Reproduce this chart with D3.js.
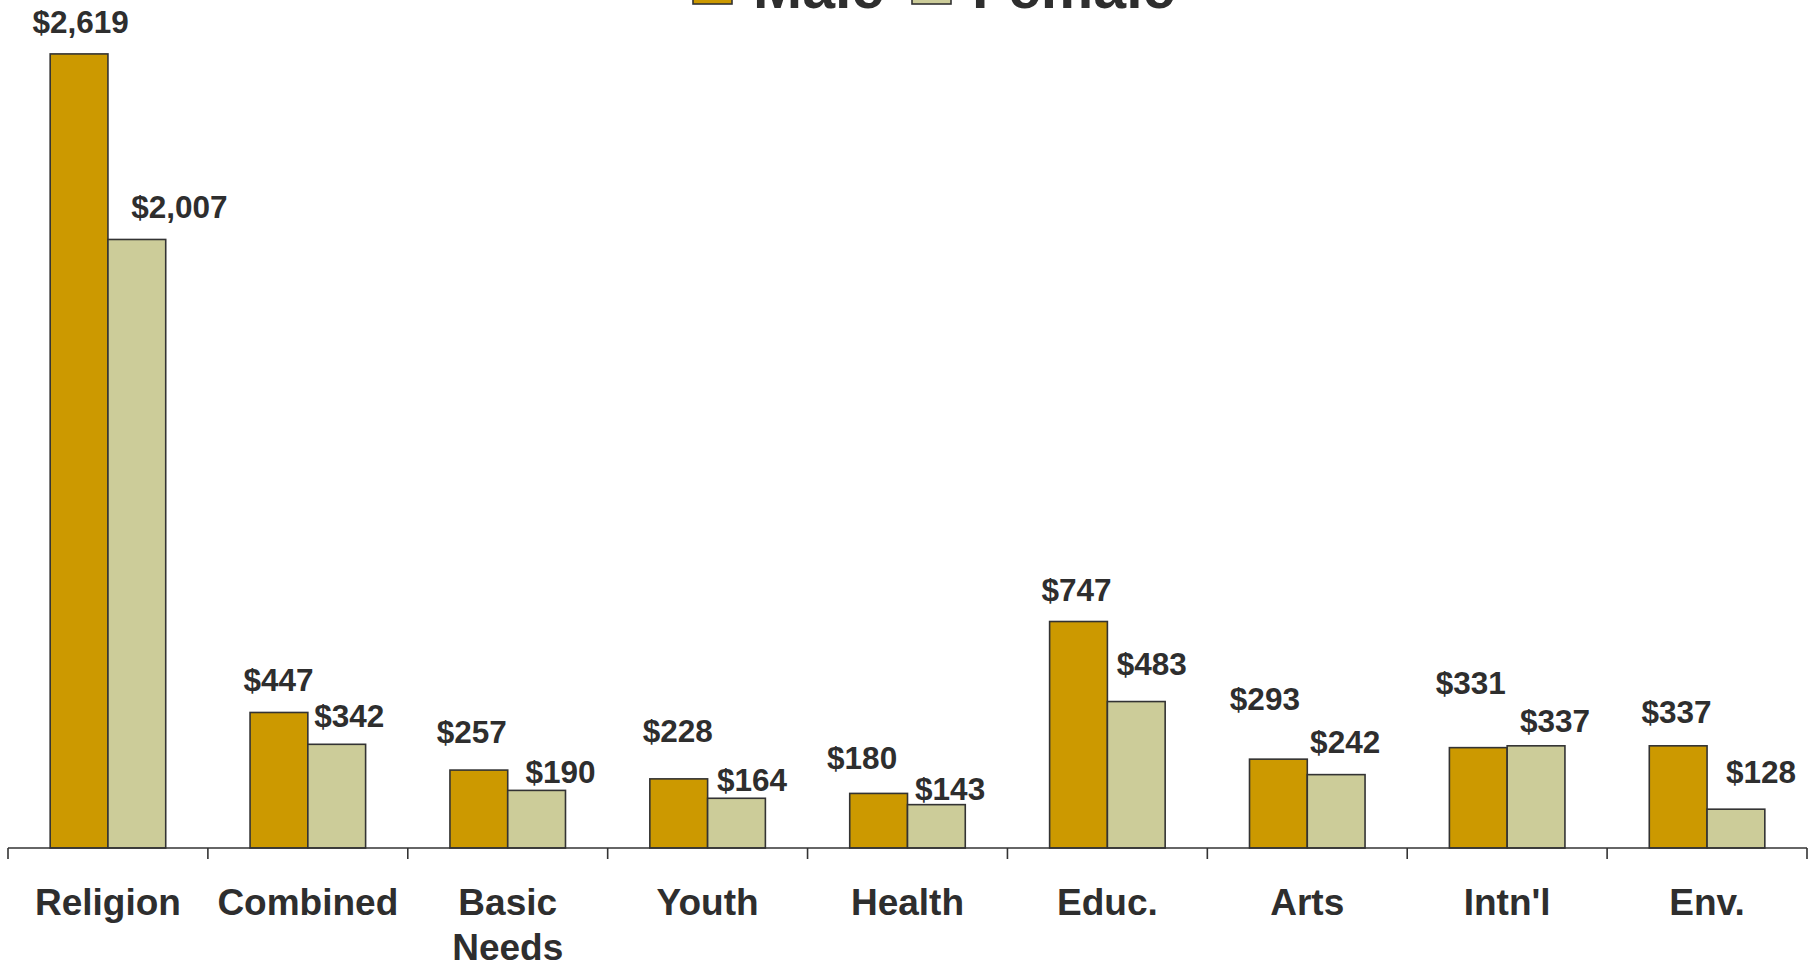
<!DOCTYPE html>
<html>
<head>
<meta charset="utf-8">
<script src="https://cdn.jsdelivr.net/npm/d3@7"></script>
<style>
  html, body { margin: 0; padding: 0; background: #fff; }
  svg { display: block; }
  text { font-family: "Liberation Sans", Arial, Helvetica, sans-serif; font-weight: bold; fill: #2e2e2e; }
</style>
</head>
<body>
<svg id="chart" width="1814" height="964"></svg>
<script>
// Average giving by cause, by gender of donor
const categories = ["Religion", "Combined", "Basic Needs", "Youth", "Health", "Educ.", "Arts", "Intn'l", "Env."];
const series = ["Male", "Female"];
const maleValues = [2619, 447, 257, 228, 180, 747, 293, 331, 337];
const femaleValues = [2007, 342, 190, 164, 143, 483, 242, 337, 128];

// Hand-placed value labels: horizontal / vertical nudges from the bar top centre (px)
const maleLabelDx = [1.5, -0.5, -7, -1, -16.5, -2, -13.5, -7.5, -1.75];
const maleLabelDy = [-21, -21.3, -26.7, -37, -24, -20.7, -49.5, -53.3, -22.4];
const femaleLabelDx = [42.5, 12.5, 24, 15.5, 13.75, 15.5, 9, 19, 25];
const femaleLabelDy = [-21.7, -17, -7.3, -7.6, -5, -26.7, -21.7, -14, -26];

const colors = { Male: "#cc9900", Female: "#cccc99" };

const svg = d3.select("#chart");
const baseY = 848;

const x = d3.scaleBand().domain(categories).range([8, 1807]).paddingInner(0).paddingOuter(0);
const xSub = d3.scaleBand().domain(series).range([0, x.bandwidth()]).paddingInner(0).paddingOuter(0.73);
const y = d3.scaleLinear().domain([0, 3000]).range([baseY, baseY - 909.6]);

const rows = categories.map((c, i) => ({
  cat: c,
  vals: [
    { s: "Male", v: maleValues[i], dx: maleLabelDx[i], dy: maleLabelDy[i] },
    { s: "Female", v: femaleValues[i], dx: femaleLabelDx[i], dy: femaleLabelDy[i] }
  ]
}));

const fmt = d3.format("$,");

// Bars
const groups = svg.append("g").selectAll("g")
  .data(rows).join("g")
  .attr("transform", d => `translate(${x(d.cat)},0)`);

groups.selectAll("rect")
  .data(d => d.vals).join("rect")
  .attr("x", d => xSub(d.s))
  .attr("y", d => y(d.v))
  .attr("width", xSub.bandwidth())
  .attr("height", d => y(0) - y(d.v))
  .attr("fill", d => colors[d.s])
  .attr("stroke", "#333")
  .attr("stroke-width", 1.6);

// Value labels
groups.selectAll("text.val")
  .data(d => d.vals).join("text")
  .attr("class", "val")
  .attr("x", d => xSub(d.s) + xSub.bandwidth() / 2 + d.dx)
  .attr("y", d => y(d.v) + d.dy)
  .attr("text-anchor", "middle")
  .style("font-size", "31.5px")
  .text(d => fmt(d.v));

// Category axis: baseline with ticks at category boundaries
const axis = svg.append("g");
axis.append("line")
  .attr("x1", x.range()[0]).attr("x2", x.range()[1])
  .attr("y1", baseY).attr("y2", baseY)
  .attr("stroke", "#333").attr("stroke-width", 1.6);
const boundaries = categories.map(c => x(c)).concat([x.range()[1]]);
axis.selectAll("line.tick")
  .data(boundaries).join("line")
  .attr("class", "tick")
  .attr("x1", d => d).attr("x2", d => d)
  .attr("y1", baseY).attr("y2", baseY + 11)
  .attr("stroke", "#333").attr("stroke-width", 1.6);

// Category names (wrapped on spaces)
axis.selectAll("text.cat")
  .data(categories).join("text")
  .attr("class", "cat")
  .attr("text-anchor", "middle")
  .style("font-size", "37px")
  .each(function (c) {
    const t = d3.select(this);
    const words = c.split(" ");
    words.forEach((w, k) => {
      t.append("tspan")
        .attr("x", x(c) + x.bandwidth() / 2)
        .attr("y", 915 + k * 45)
        .text(w);
    });
  });

// Legend
const legend = svg.append("g");
const legendItems = [
  { s: "Male", boxX: 693, textX: 753 },
  { s: "Female", boxX: 912, textX: 972 }
];
legend.selectAll("rect")
  .data(legendItems).join("rect")
  .attr("x", d => d.boxX)
  .attr("y", -35)
  .attr("width", 39)
  .attr("height", 39)
  .attr("fill", d => colors[d.s])
  .attr("stroke", "#333")
  .attr("stroke-width", 1.6);
legend.selectAll("text")
  .data(legendItems).join("text")
  .attr("x", d => d.textX)
  .attr("y", 7.5)
  .style("font-size", "59px")
  .text(d => d.s);
</script>
</body>
</html>
